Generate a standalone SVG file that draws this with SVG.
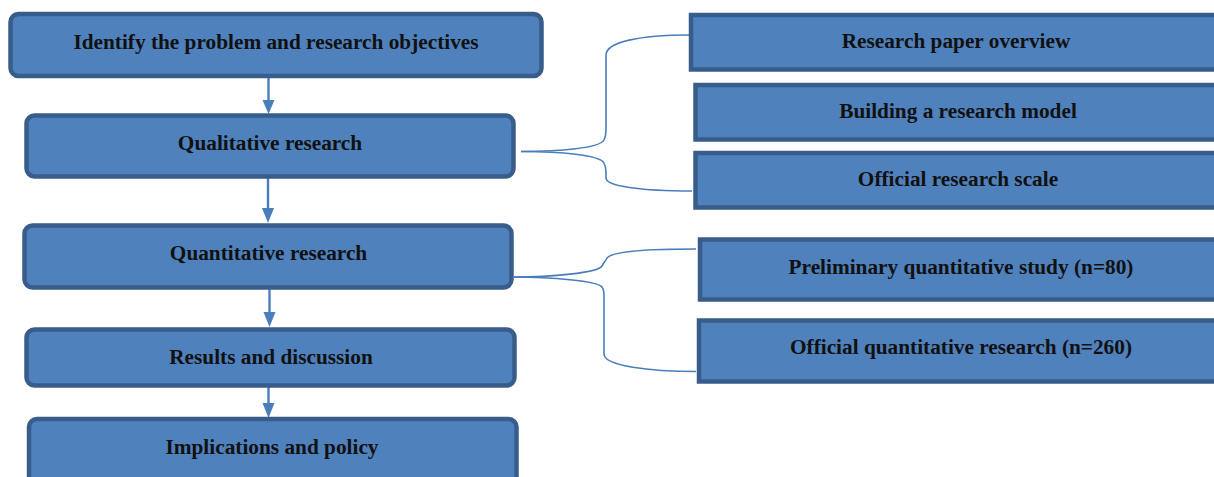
<svg xmlns="http://www.w3.org/2000/svg" width="1214" height="477" viewBox="0 0 1214 477">
<defs>
<style>
.lb{fill:#4F81BD;stroke:#385D8A;stroke-width:4.5}
.rb{fill:#4F81BD;stroke:#385D8A;stroke-width:4.5}
.t{font-family:"Liberation Serif","Times New Roman",serif;font-weight:bold;font-size:21.3px;fill:#111;text-anchor:middle}
.c{fill:none;stroke:#4A7EBB;stroke-width:1.6}
.a{fill:none;stroke:#4A7EBB;stroke-width:2.4}
.h{fill:#4A7EBB}
</style>
</defs>
<g id="connectors">
<path class="a" d="M268.5,63 V102"/>
<path class="h" d="M262.5,100 L274.5,100 L268.5,114 Z"/>
<path class="a" d="M268,173 V210"/>
<path class="h" d="M262,208 L274,208 L268,223 Z"/>
<path class="a" d="M269.5,283 V314"/>
<path class="h" d="M263.5,312 L275.5,312 L269.5,327 Z"/>
<path class="a" d="M268.5,372 V405"/>
<path class="h" d="M262.5,403 L274.5,403 L268.5,418 Z"/>
<path class="c" d="M521,151.5 C560,151.5 600,148 604,140 C606,136 606,134 606,130 V55 C606,42 640,35 689,35"/>
<path class="c" d="M521,151.5 C560,151.5 600,155 604,163 C606,167 606,168 606,172 V178 C606,186 640,191 692,191"/>
<path class="c" d="M514,277 C550,277 598,273 602,266 C604,262 605,262 607,258 C612,251 650,249 696,249"/>
<path class="c" d="M514,277 C550,277 598,281 602,287 C604,290 604,292 604,296 V354 C604,366 650,371.5 696,371.5"/>
</g>
<g id="n1"><rect class="lb" x="10.5" y="14" width="531" height="62" rx="8"/><text class="t" x="276" y="49">Identify the problem and research objectives</text></g>
<g id="n2"><rect class="lb" x="26.5" y="115.5" width="487" height="61" rx="8"/><text class="t" x="270" y="150">Qualitative research</text></g>
<g id="n3"><rect class="lb" x="24.5" y="225.5" width="487" height="62" rx="8"/><text class="t" x="268.5" y="260">Quantitative research</text></g>
<g id="n4"><rect class="lb" x="26.5" y="329.5" width="488" height="56" rx="8"/><text class="t" x="271" y="364">Results and discussion</text></g>
<g id="n5"><rect class="lb" x="29" y="419" width="487.5" height="70" rx="8"/><text class="t" x="272" y="454">Implications and policy</text></g>
<g id="r1"><rect class="rb" x="691" y="15" width="530" height="54.5"/><text class="t" x="956" y="48">Research paper overview</text></g>
<g id="r2"><rect class="rb" x="695.5" y="85" width="525" height="54.5"/><text class="t" x="958" y="118">Building a research model</text></g>
<g id="r3"><rect class="rb" x="695.5" y="153" width="525" height="54.5"/><text class="t" x="958" y="186">Official research scale</text></g>
<g id="r4"><rect class="rb" x="700" y="239.5" width="520" height="60"/><text class="t" x="961" y="274">Preliminary quantitative study (n=80)</text></g>
<g id="r5"><rect class="rb" x="699" y="320.5" width="521" height="61"/><text class="t" x="961" y="354">Official quantitative research (n=260)</text></g>
</svg>
